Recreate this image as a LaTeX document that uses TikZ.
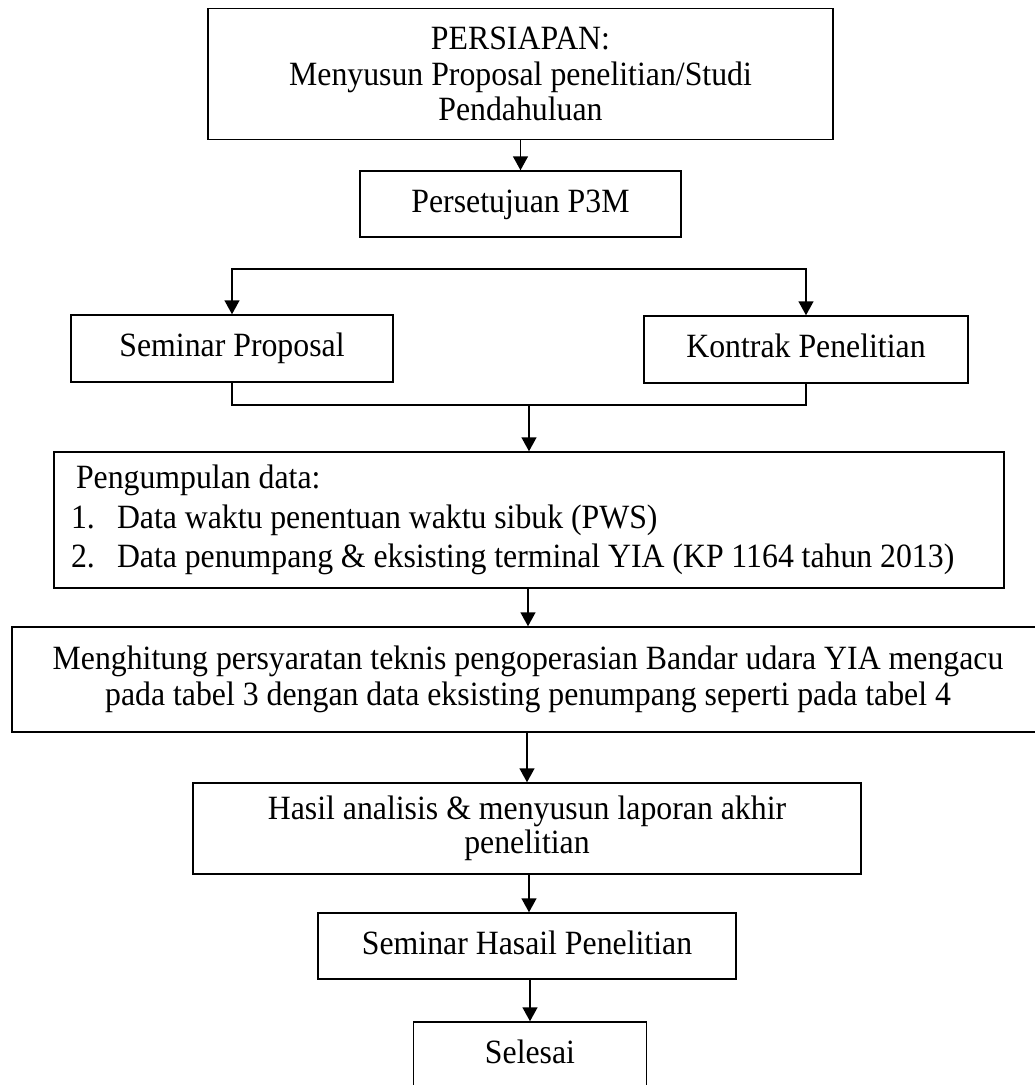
\documentclass[tikz,border=0pt]{standalone}
\usepackage{fontspec}
\setmainfont{Liberation Serif}[FakeStretch=0.935]
\usepackage{tikz}
\usetikzlibrary{arrows.meta}

\begin{document}
\begin{tikzpicture}[x=1pt,y=-1pt]
\tikzstyle{box}=[draw,line width=1.5pt,rectangle,inner sep=0pt,align=center,font=\fontsize{34}{35.5}\selectfont]
\tikzstyle{one}=[text height=23pt,text depth=7pt]
\tikzstyle{arr}=[line width=1.5pt,-{Triangle[width=15pt,length=14pt]}]
\tikzstyle{link}=[line width=1.5pt]
\useasboundingbox (0,0) rectangle (1035,1085);
\node[box,minimum width=625pt,minimum height=131pt] (persiapan) at (520.5,74)
  {PERSIAPAN:\\Menyusun Proposal penelitian/Studi\\Pendahuluan};
\node[box,one,minimum width=321pt,minimum height=66pt] (setuju) at (520.5,204) {Persetujuan P3M};
\node[box,one,minimum width=322pt,minimum height=67pt] (semprop) at (232,348.5) {Seminar Proposal};
\node[box,one,minimum width=324pt,minimum height=67pt] (kontrak) at (806,349.5) {Kontrak Penelitian};
\node[box,minimum width=950pt,minimum height=136pt,inner xsep=22pt,text width=906pt,align=left,
  font=\fontsize{34}{39.5}\selectfont] (kumpul) at (529,520)
  {\spaceskip=0.23em\relax
   \mbox{Pengumpulan data:}\\
   \mbox{\hspace*{-5pt}\makebox[46pt][l]{1.}Data waktu penentuan waktu sibuk (PWS)}\\
   \mbox{\hspace*{-5pt}\makebox[46pt][l]{2.}Data penumpang \& eksisting terminal YIA (KP 1164 tahun 2013)}};
\node[box,minimum width=1032pt,minimum height=105pt] (hitung) at (528,679.5)
  {Menghitung persyaratan teknis pengoperasian Bandar udara YIA mengacu\\
   pada tabel 3 dengan data eksisting penumpang seperti pada tabel 4};
\node[box,minimum width=668pt,minimum height=91pt] (hasil) at (527,828.5)
  {\raisebox{-4pt}{\shortstack{Hasil analisis \& menyusun laporan akhir\\penelitian}}};
\node[box,one,minimum width=418pt,minimum height=66pt] (semhasil) at (527,946) {Seminar Hasail Penelitian};
\node[box,one,minimum width=233pt,minimum height=66pt] (selesai) at (530,1055) {Selesai};
% percabangan
\coordinate (fork) at (520.5,269);
\coordinate (join) at (529,405);
\draw[arr] (persiapan) -- (setuju);
\draw[arr] (fork) -| (semprop.north);
\draw[arr] (fork) -| (kontrak.north);
\draw[link] (semprop.south) |- (join) -| (kontrak.south);
\draw[arr] (join) -- (kumpul.north);
\draw[arr] (kumpul.south -| hitung.north) -- (hitung.north);
\draw[arr] (hasil.north |- hitung.south) -- (hasil.north);
\draw[arr] ([xshift=2pt]semhasil.north |- hasil.south) -- ([xshift=2pt]semhasil.north);
\draw[arr] (selesai.north |- semhasil.south) -- (selesai.north);
\end{tikzpicture}
\end{document}
